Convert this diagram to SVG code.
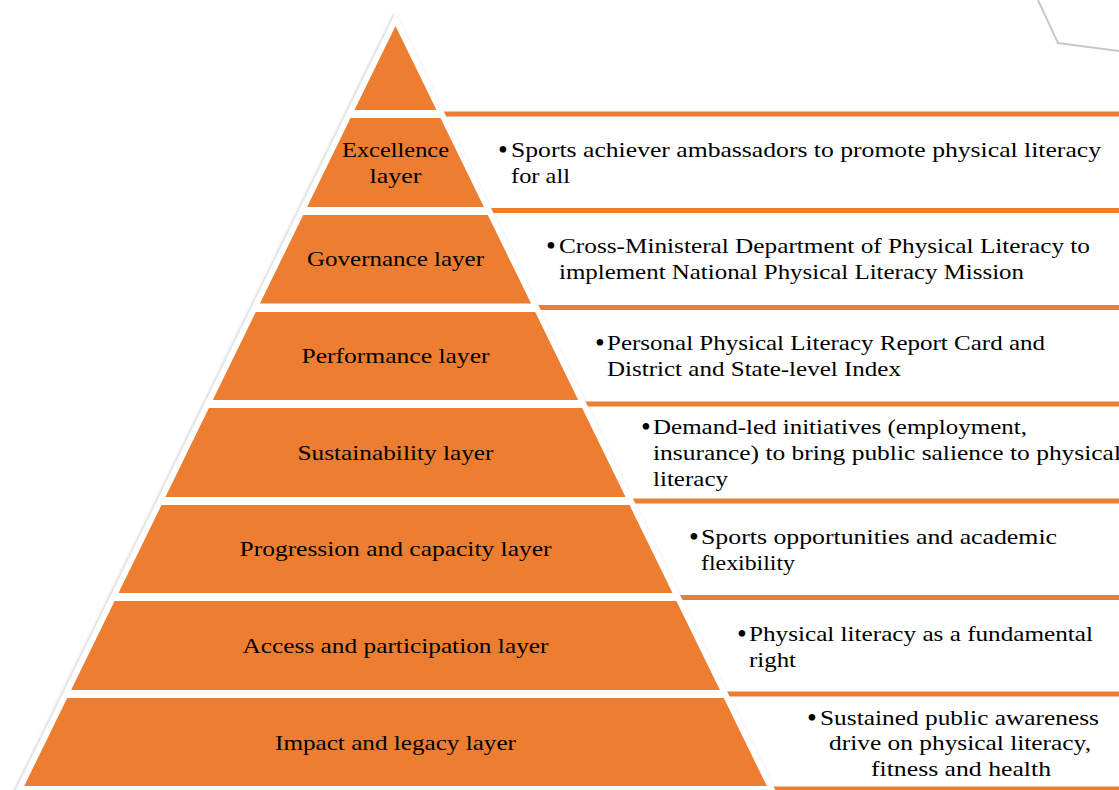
<svg xmlns="http://www.w3.org/2000/svg" width="1119" height="790" viewBox="0 0 1119 790">
<style>
.band{fill:#ED7D31}
.sep{stroke:#ED7D31;stroke-width:5}
.lbl{font-family:"Liberation Serif",serif;font-size:22px;fill:#000;text-anchor:middle}
.txt{font-family:"Liberation Serif",serif;font-size:22px;fill:#000}
.bul{font-family:"Liberation Serif",serif;font-size:28px;fill:#000}
</style>
<defs>
<filter id="sh" x="-5%" y="-5%" width="110%" height="110%">
<feDropShadow dx="-1" dy="0" stdDeviation="1.5" flood-color="#888" flood-opacity="0.45"/>
</filter>
</defs>
<rect width="1119" height="790" fill="#fff"/>
<polyline points="1038,0 1058,43 1119,51" fill="none" stroke="#c8c8c8" stroke-width="2"/>
<g id="connectors">
<line class="sep" x1="400" y1="114" x2="1119" y2="114"/>
<line class="sep" x1="400" y1="210.5" x2="1119" y2="210.5"/>
<line class="sep" x1="400" y1="307.5" x2="1119" y2="307.5"/>
<line class="sep" x1="400" y1="404" x2="1119" y2="404"/>
<line class="sep" x1="400" y1="501" x2="1119" y2="501"/>
<line class="sep" x1="400" y1="597.5" x2="1119" y2="597.5"/>
<line class="sep" x1="400" y1="694" x2="1119" y2="694"/>
<line class="sep" x1="400" y1="789" x2="1119" y2="789"/>
</g>
<polygon points="395.5,12.7 780.2,800 10.8,800" fill="#fff" filter="url(#sh)"/>
<g id="apex">
<polygon class="band" points="395.5,26 436.5,110 354.5,110"/>
</g>
<g id="excellence">
<polygon class="band" points="350.5,118 440.5,118 483.9,207 307.1,207"/>
<text class="lbl" x="395.5" y="157" textLength="107" lengthAdjust="spacingAndGlyphs">Excellence</text>
<text class="lbl" x="395.5" y="183" textLength="52" lengthAdjust="spacingAndGlyphs">layer</text>
<text class="bul" x="498" y="159">•</text>
<text class="txt" x="511" y="157" textLength="590" lengthAdjust="spacingAndGlyphs">Sports achiever ambassadors to promote physical literacy</text>
<text class="txt" x="511" y="183" textLength="59" lengthAdjust="spacingAndGlyphs">for all</text>
</g>
<g id="governance">
<polygon class="band" points="303.2,215 487.8,215 531.1,303.5 259.9,303.5"/>
<text class="lbl" x="395.5" y="266" textLength="177" lengthAdjust="spacingAndGlyphs">Governance layer</text>
<text class="bul" x="546" y="255">•</text>
<text class="txt" x="559" y="253" textLength="531" lengthAdjust="spacingAndGlyphs">Cross-Ministeral Department of Physical Literacy to</text>
<text class="txt" x="559" y="279" textLength="465" lengthAdjust="spacingAndGlyphs">implement National Physical Literacy Mission</text>
</g>
<g id="performance">
<polygon class="band" points="255.8,312 535.2,312 578.2,400 212.8,400"/>
<text class="lbl" x="395.5" y="363" textLength="188" lengthAdjust="spacingAndGlyphs">Performance layer</text>
<text class="bul" x="595" y="352">•</text>
<text class="txt" x="607" y="350" textLength="438" lengthAdjust="spacingAndGlyphs">Personal Physical Literacy Report Card and</text>
<text class="txt" x="607" y="376" textLength="294" lengthAdjust="spacingAndGlyphs">District and State-level Index</text>
</g>
<g id="sustainability">
<polygon class="band" points="208.9,408 582.1,408 625.6,497 165.4,497"/>
<text class="lbl" x="395.5" y="460" textLength="196" lengthAdjust="spacingAndGlyphs">Sustainability layer</text>
<text class="bul" x="641" y="436">•</text>
<text class="txt" x="653" y="434" textLength="374" lengthAdjust="spacingAndGlyphs">Demand-led initiatives (employment,</text>
<text class="txt" x="653" y="460" textLength="468" lengthAdjust="spacingAndGlyphs">insurance) to bring public salience to physical</text>
<text class="txt" x="653" y="486" textLength="75" lengthAdjust="spacingAndGlyphs">literacy</text>
</g>
<g id="progression">
<polygon class="band" points="161.5,505 629.5,505 672.5,593 118.5,593"/>
<text class="lbl" x="395.5" y="556" textLength="312" lengthAdjust="spacingAndGlyphs">Progression and capacity layer</text>
<text class="bul" x="689" y="546">•</text>
<text class="txt" x="701" y="544" textLength="356" lengthAdjust="spacingAndGlyphs">Sports opportunities and academic</text>
<text class="txt" x="701" y="570" textLength="94" lengthAdjust="spacingAndGlyphs">flexibility</text>
</g>
<g id="access">
<polygon class="band" points="114.6,601 676.4,601 719.9,690 71.1,690"/>
<text class="lbl" x="395.5" y="653" textLength="306" lengthAdjust="spacingAndGlyphs">Access and participation layer</text>
<text class="bul" x="737" y="643">•</text>
<text class="txt" x="749" y="641" textLength="344" lengthAdjust="spacingAndGlyphs">Physical literacy as a fundamental</text>
<text class="txt" x="749" y="667" textLength="47" lengthAdjust="spacingAndGlyphs">right</text>
</g>
<g id="impact">
<polygon class="band" points="67.2,698 723.8,698 766.8,786 24.2,786"/>
<text class="lbl" x="395.5" y="750" textLength="241" lengthAdjust="spacingAndGlyphs">Impact and legacy layer</text>
<text class="bul" x="807" y="727">•</text>
<text class="txt" x="820" y="725" textLength="279" lengthAdjust="spacingAndGlyphs">Sustained public awareness</text>
<text class="txt" x="829" y="750" textLength="262" lengthAdjust="spacingAndGlyphs">drive on physical literacy,</text>
<text class="txt" x="871" y="776" textLength="180" lengthAdjust="spacingAndGlyphs">fitness and health</text>
</g>
</svg>
